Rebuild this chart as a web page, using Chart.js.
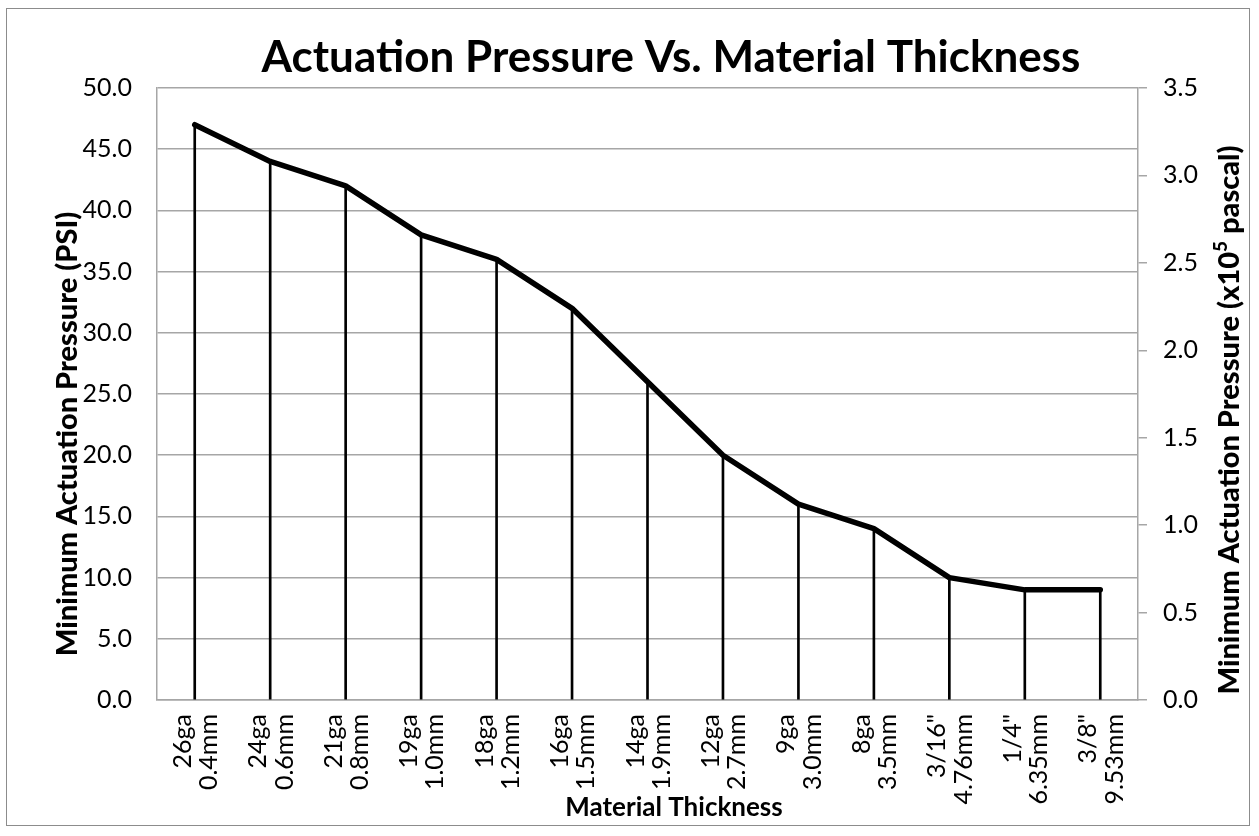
<!DOCTYPE html>
<html><head><meta charset="utf-8">
<script src="https://cdn.jsdelivr.net/npm/chart.js@4/dist/chart.umd.min.js"></script>
<style>
html,body{margin:0;padding:0;background:#fff;}
#wrap{position:relative;width:1259px;height:836px;}
#frame{position:absolute;left:6px;top:8px;width:1244px;height:818px;border:1.5px solid #8c8c8c;box-sizing:border-box;pointer-events:none;}
canvas{position:absolute;left:0;top:0;}
</style></head><body>
<div id="wrap"><canvas id="c" width="1259" height="836"></canvas><div id="frame"></div></div>
<script>
const categories = [["26ga","0.4mm"],["24ga","0.6mm"],["21ga","0.8mm"],["19ga","1.0mm"],["18ga","1.2mm"],["16ga","1.5mm"],["14ga","1.9mm"],["12ga","2.7mm"],["9ga","3.0mm"],["8ga","3.5mm"],["3/16\"","4.76mm"],["1/4\"","6.35mm"],["3/8\"","9.53mm"]];
const psiValues = [47,44,42,38,36,32,26,20,16,14,10,9,9];
const psiTicks = {min:0, max:50, step:5};
const pascalTicks = {min:0, max:3.5, step:0.5};
const chartTitle = "Actuation Pressure Vs. Material Thickness";
const xTitle = "Material Thickness";
const yTitle = "Minimum Actuation Pressure (PSI)";
const y2TitleParts = ["Minimum Actuation Pressure (x10", "5", " pascal)"];

const FONT = "Lato, 'Open Sans', sans-serif";
const GRID = "#a6a6a6";

const titlesPlugin = {
  id: 'titles',
  afterDraw(chart) {
    const ctx = chart.ctx;
    // main title
    ctx.save();
    ctx.fillStyle = '#000';
    ctx.textBaseline = 'middle';
    ctx.textAlign = 'center';
    ctx.font = "bold 44px " + FONT;
    ctx.fillText(chartTitle, 671, 58);
    // x title
    ctx.font = "bold 26px " + FONT;
    ctx.fillText(xTitle, 674, 808);
    ctx.restore();
    // left title
    ctx.save();
    ctx.fillStyle = '#000';
    ctx.textBaseline = 'middle';
    ctx.font = "900 29px " + FONT;
    ctx.translate(68, 434);
    ctx.rotate(-Math.PI/2);
    ctx.textAlign = 'center';
    ctx.fillText(yTitle, 0, 0);
    ctx.restore();
    // right title with superscript
    ctx.save();
    ctx.fillStyle = '#000';
    ctx.textBaseline = 'middle';
    ctx.translate(1230, 420);
    ctx.rotate(-Math.PI/2);
    ctx.textAlign = 'left';
    const big = "900 29px " + FONT, small = "900 19px " + FONT;
    ctx.font = big; const w1 = ctx.measureText(y2TitleParts[0]).width;
    const w3 = ctx.measureText(y2TitleParts[2]).width;
    ctx.font = small; const w2 = ctx.measureText(y2TitleParts[1]).width;
    let x = -(w1 + w2 + w3)/2;
    ctx.font = big; ctx.fillText(y2TitleParts[0], x, 0); x += w1;
    ctx.font = small; ctx.fillText(y2TitleParts[1], x, -9); x += w2;
    ctx.font = big; ctx.fillText(y2TitleParts[2], x, 0);
    ctx.restore();
  }
};

new Chart(document.getElementById('c'), {
  data: {
    labels: categories,
    datasets: [
      { type: 'line', data: psiValues, borderColor: '#000', borderWidth: 5.5, pointRadius: 0, borderCapStyle: 'round', borderJoinStyle: 'round', tension: 0, yAxisID: 'y', order: 0 },
      { type: 'bar', data: psiValues, backgroundColor: '#000', barThickness: 2, yAxisID: 'y', order: 1 }
    ]
  },
  options: {
    responsive: false,
    animation: false,
    events: [],
    layout: { padding: { left: 0, right: 0, top: 88, bottom: 0 } },
    plugins: {
      legend: { display: false },
      tooltip: { enabled: false },
      title: { display: false }
    },
    scales: {
      x: {
        offset: true,
        grid: { display: true, drawOnChartArea: false, drawTicks: false },
        border: { display: true, color: GRID, width: 1.5 },
        ticks: { color: '#000', font: { family: FONT, size: 25, lineHeight: 1.05 }, maxRotation: 90, minRotation: 90, padding: 14, labelOffset: -12, autoSkip: false },
        afterFit(s) { s.height = 836 - 700; }
      },
      y: {
        position: 'left',
        min: psiTicks.min, max: psiTicks.max,
        grid: { color: GRID, lineWidth: 1.5, drawTicks: false },
        border: { display: true, color: GRID, width: 1.5 },
        ticks: { stepSize: psiTicks.step, color: '#000', font: { family: FONT, size: 25 }, padding: 25, callback: v => Number(v).toFixed(1) },
        afterFit(s) { s.width = 157; }
      },
      y2: {
        position: 'right',
        min: pascalTicks.min, max: pascalTicks.max,
        grid: { drawOnChartArea: false, color: GRID, lineWidth: 1.5, tickLength: 9 },
        border: { display: true, color: GRID, width: 1.5 },
        ticks: { stepSize: pascalTicks.step, color: '#000', font: { family: FONT, size: 25 }, padding: 16, callback: v => Number(v).toFixed(1) },
        afterFit(s) { s.width = 1259 - 1138; }
      }
    }
  },
  plugins: [titlesPlugin]
});
</script>
</body></html>
